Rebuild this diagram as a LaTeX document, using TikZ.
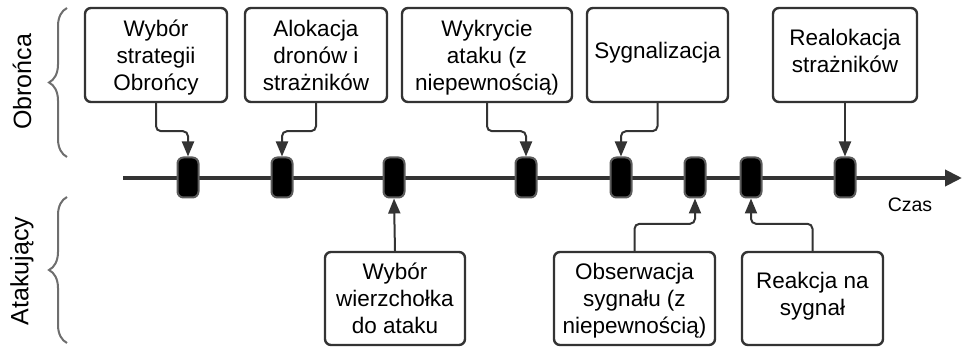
\documentclass[tikz,border=0pt]{standalone}
\usepackage{fontspec}
\setmainfont{Liberation Sans}
\usetikzlibrary{arrows.meta,decorations.pathreplacing}

\definecolor{ink}{HTML}{333333}
\definecolor{bracegray}{HTML}{6E6E6E}

% fixed height for the first text line, so the text top is predictable
\newcommand{\boxstrut}{\rule{0pt}{24pt}}

\tikzset{
  eventbox/.style={draw=ink, line width=2.4pt, rounded corners=6pt, fill=white,
    inner sep=0pt, minimum height=94pt},
  boxtext/.style={align=center, inner sep=0pt, anchor=north,
    font=\fontsize{22.5}{27}\selectfont},
  tick/.style={draw=ink!80, fill=black, line width=2pt, rounded corners=6pt,
    minimum width=21pt, minimum height=40pt, inner sep=0pt},
  conn/.style={draw=ink, line width=2pt, rounded corners=5pt,
    -{Triangle[length=15pt,width=12pt]}},
  axis/.style={draw=ink, line width=4pt, -{Triangle[length=17pt,width=16pt]}},
  sidebrace/.style={draw=bracegray, line width=2pt,
    decorate, decoration={brace, amplitude=18pt}},
  sidelabel/.style={rotate=90, font=\fontsize{25}{30}\selectfont},
}

\begin{document}
\begin{tikzpicture}[x=1pt, y=-1pt]
  \useasboundingbox (0,0) rectangle (962,347);

  % time axis
  \coordinate (t0) at (123,178);
  \coordinate (t1) at (962,178);
  \draw[axis] (t0) -- (t1);
  \node[font=\fontsize{19.5}{23}\selectfont] (czas) at (910,205) {Czas};

  % event ticks on the axis
  \node[tick] (m1) at (188,177.5) {};
  \node[tick] (m2) at (282,177.5) {};
  \node[tick] (m3) at (394,177.5) {};
  \node[tick] (m4) at (526,177.5) {};
  \node[tick] (m5) at (621,177.5) {};
  \node[tick] (m6) at (695,177.5) {};
  \node[tick] (m7) at (751,177.5) {};
  \node[tick] (m8) at (845,177.5) {};

  % defender actions
  \node[eventbox, minimum width=142pt] (b1) at (156,55) {};
  \node[eventbox, minimum width=142pt] (b2) at (316,55) {};
  \node[eventbox, minimum width=170pt] (b3) at (487,55) {};
  \node[eventbox, minimum width=141pt] (b4) at (657.5,55) {};
  \node[eventbox, minimum width=144pt] (b5) at (845,55) {};
  \node[boxtext] (b1t) at ([yshift=-6pt]b1.north) {\boxstrut Wybór\\strategii\\Obrońcy};
  \node[boxtext] (b2t) at ([yshift=-6pt]b2.north) {\boxstrut Alokacja\\dronów i\\strażników};
  \node[boxtext] (b3t) at ([yshift=-6pt]b3.north) {\boxstrut Wykrycie\\ataku (z\\niepewnością)};
  \node[boxtext] (b4t) at ([yshift=-28pt]b4.north) {\boxstrut Sygnalizacja};
  \node[boxtext] (b5t) at ([yshift=-14.5pt]b5.north) {\boxstrut Realokacja\\strażników};

  % attacker actions
  \node[eventbox, minimum width=140pt, minimum height=93pt] (b6) at (395,298.5) {};
  \node[eventbox, minimum width=161pt, minimum height=93pt] (b7) at (634.5,298.5) {};
  \node[eventbox, minimum width=141pt, minimum height=93pt] (b8) at (812.5,298.5) {};
  \node[boxtext] (b6t) at ([yshift=-5pt]b6.north) {\boxstrut Wybór\\wierzchołka\\do ataku};
  \node[boxtext] (b7t) at ([yshift=-5pt]b7.north) {\boxstrut Obserwacja\\sygnału (z\\niepewnością)};
  \node[boxtext] (b8t) at ([yshift=-14pt]b8.north) {\boxstrut Reakcja na\\sygnał};

  % connectors from defender boxes down to the axis
  \draw[conn] (b1.south) -- ++(0,28) -| (m1.north);
  \draw[conn] (b2.south) -- ++(0,28) -| (m2.north);
  \draw[conn] (b3.south) -- ++(0,28) -| (m4.north);
  \draw[conn] (b4.south) -- ++(0,28) -| (m5.north);
  \draw[conn] (b5.south) -- (m8.north);

  % connectors from attacker boxes up to the axis
  \draw[conn] (b6.north) -- (m3.south);
  \draw[conn] (b7.north) -- ++(0,-27) -| (m6.south);
  \draw[conn] (b8.north) -- ++(0,-27) -| (m7.south);

  % side braces and role labels
  \coordinate (br1a) at (67,157);
  \coordinate (br1b) at (67,8);
  \coordinate (br2a) at (67,343);
  \coordinate (br2b) at (67,197);
  \draw[sidebrace] (br1a) -- (br1b);
  \draw[sidebrace] (br2a) -- (br2b);
  \node[sidelabel] (obr) at (22,82) {Obrońca};
  \node[sidelabel] (atk) at (22,271) {Atakujący};
\end{tikzpicture}
\end{document}
